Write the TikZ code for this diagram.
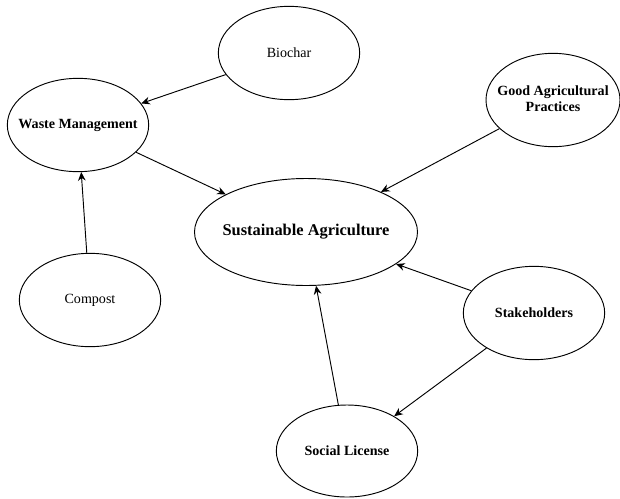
\documentclass[tikz,border=0pt]{standalone}
\usepackage{fontspec}
\setmainfont{Liberation Serif}
\usetikzlibrary{arrows.meta,shapes.geometric}
\newcommand{\lbl}[1]{\makebox[0pt]{#1}}
\begin{document}
\begin{tikzpicture}[x=0.03cm,y=-0.03cm,
    topic/.style={draw,ellipse,line width=0.8pt,inner sep=0pt,
        font=\fontsize{12}{13.6}\selectfont,minimum width=4.24cm,minimum height=2.8cm},
    link/.style={-{Stealth[length=2.6mm,width=2.3mm]},line width=0.8pt}]
                \useasboundingbox (0,0) rectangle (620,498);
                \node[topic] (bio) at (289,53) {\lbl{Biochar}};
                \node[topic,font=\fontsize{12}{13.6}\selectfont\bfseries] (waste) at (78,125) {\lbl{Waste Management}};
                \node[topic,font=\fontsize{12}{13.6}\selectfont\bfseries,minimum width=4.02cm] (gap) at (553,100)
                    {\lbl{\begin{tabular}{@{}c@{}}Good Agricultural\\Practices\end{tabular}}};
                \node[topic,font=\fontsize{14}{16}\selectfont\bfseries,minimum width=6.69cm,minimum height=3.21cm] (sa) at (306,232) {\lbl{Sustainable Agriculture}};
                \node[topic] (comp) at (90,300) {\lbl{Compost}};
                \node[topic,font=\fontsize{12}{13.6}\selectfont\bfseries] (stake) at (534,313) {\lbl{Stakeholders}};
                \node[topic,font=\fontsize{12}{13.6}\selectfont\bfseries,minimum height=2.76cm] (social) at (347,451) {\lbl{Social License}};
                \draw[link] (bio)--(waste);
                \draw[link] (comp)--(waste);
                \draw[link] (waste)--(sa);
                \draw[link] (gap)--(sa);
                \draw[link] (stake)--(sa);
                \draw[link] (social)--(sa);
                \draw[link] (stake)--(social);
            \end{tikzpicture}
\end{document}
